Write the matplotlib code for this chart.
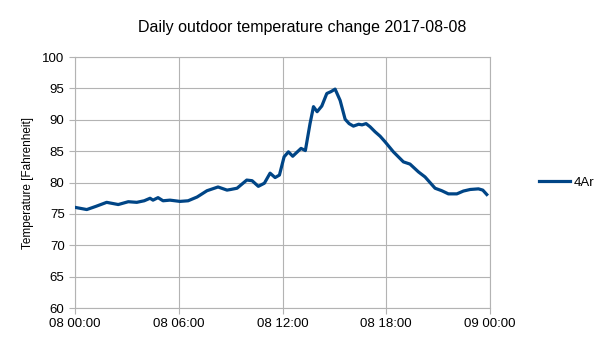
import matplotlib
matplotlib.use("Agg")
import matplotlib.pyplot as plt

# hours since 2017-08-08 00:00 and temperature readings (F)
hours = [0.0, 0.68, 1.2, 1.83, 2.5, 3.08, 3.57, 4.0, 4.34, 4.51, 4.8, 5.09, 5.49,
         6.07, 6.54, 7.06, 7.63, 8.27, 8.79, 9.0, 9.37, 9.93, 10.24, 10.6, 10.95,
         11.28, 11.57, 11.82, 12.09, 12.34, 12.59, 12.8, 13.07, 13.32, 13.59,
         13.79, 14.0, 14.27, 14.56, 14.8, 15.04, 15.33, 15.62, 15.85, 16.1, 16.4,
         16.6, 16.83, 17.06, 17.35, 17.64, 17.93, 18.41, 18.99, 19.37, 19.86,
         20.24, 20.82, 21.21, 21.59, 22.08, 22.46, 22.85, 23.33, 23.58, 23.81]
temps = [76.05, 75.7, 76.2, 76.85, 76.5, 76.95, 76.85, 77.1, 77.5, 77.2, 77.6, 77.1, 77.2,
         77.0, 77.1, 77.7, 78.7, 79.3, 78.8, 78.9, 79.1, 80.4, 80.3, 79.4, 79.9,
         81.5, 80.8, 81.2, 84.1, 84.9, 84.2, 84.75, 85.45, 85.1, 89.4,
         92.1, 91.3, 92.2, 94.2, 94.5, 94.9, 93.1, 90.1, 89.4, 89.0, 89.3,
         89.2, 89.4, 88.9, 88.1, 87.4, 86.5, 84.9, 83.3, 82.95, 81.7,
         80.9, 79.1, 78.7, 78.2, 78.2, 78.65, 78.9, 79.0, 78.8, 78.1]

x_ticks = [0, 6, 12, 18, 24]
x_labels = ["08 00:00", "08 06:00", "08 12:00", "08 18:00", "09 00:00"]
y_ticks = [60, 65, 70, 75, 80, 85, 90, 95, 100]

plt.rcParams["font.family"] = ["Liberation Sans", "DejaVu Sans"]

fig = plt.figure(figsize=(6.05, 3.4), dpi=100)
ax = fig.add_axes([0.124, 0.094, 0.686, 0.738])

ax.plot(hours, temps, color="#004586", linewidth=2.3, label="4Ar", zorder=3)

ax.set_xlim(0, 24)
ax.set_ylim(60, 100)
ax.set_xticks(x_ticks)
ax.set_xticklabels(x_labels)
ax.set_yticks(y_ticks)
ax.grid(True, color="#b3b3b3", linewidth=0.8)
for s in ax.spines.values():
    s.set_color("#b3b3b3")
ax.tick_params(colors="#b3b3b3", labelcolor="black", labelsize=9.5, length=4)

ax.set_ylabel("Temperature [Fahrenheit]", fontsize=8.5, labelpad=6)
fig.suptitle("Daily outdoor temperature change 2017-08-08", fontsize=11.5, y=0.94)

ax.legend(loc="center left", bbox_to_anchor=(1.09, 0.5), frameon=False,
          fontsize=9.5, handlelength=2.3, handletextpad=0.3)

plt.savefig("out.png")
plt.close()
